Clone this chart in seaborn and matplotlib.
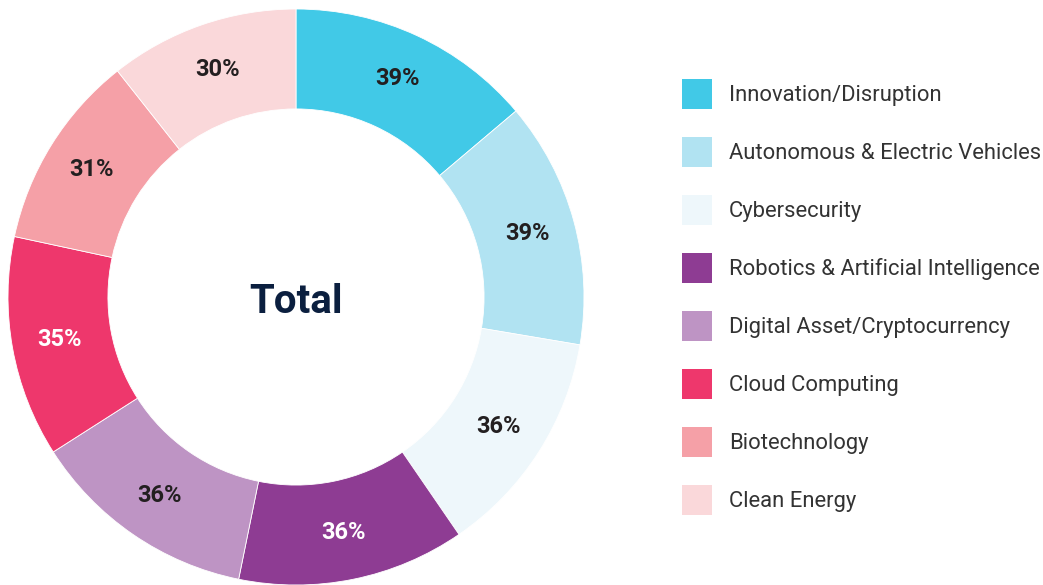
import matplotlib
matplotlib.use("Agg")
import matplotlib.pyplot as plt
from matplotlib.patches import Patch
import numpy as np
import seaborn as sns

# Theme shares, clockwise from 12 o'clock
categories = [
    "Innovation/Disruption",
    "Autonomous & Electric Vehicles",
    "Cybersecurity",
    "Robotics & Artificial Intelligence",
    "Digital Asset/Cryptocurrency",
    "Cloud Computing",
    "Biotechnology",
    "Clean Energy",
]
shares = [39, 39, 36, 36, 36, 35, 31, 30]
center_label = "Total"

palette = sns.color_palette([
    "#41C9E7", "#B1E3F2", "#EEF7FB", "#8E3C93",
    "#BE94C4", "#EE376C", "#F5A0A7", "#FAD8DA",
])
value_text_colors = ["#231F20", "#231F20", "#231F20", "white",
                     "#231F20", "white", "#231F20", "#231F20"]

sns.set_theme(style="white")
plt.rcParams["font.family"] = ["Roboto", "DejaVu Sans"]

W, H = 1043, 585
fig = plt.figure(figsize=(W / 100, H / 100), dpi=100)
fig.patch.set_facecolor("white")

# Ring centred at (296, 297) px with an outer radius of 288 px
cx, cy, R = 296, 297, 288
ax = fig.add_axes([(cx - R) / W, (H - cy - R) / H, 2 * R / W, 2 * R / H])

wedges, _ = ax.pie(
    shares,
    colors=palette,
    startangle=90,
    counterclock=False,
    radius=1,
    wedgeprops=dict(width=0.347, edgecolor="white", linewidth=0.6),
)
ax.set_xlim(-1, 1)
ax.set_ylim(-1, 1)
ax.set_aspect("equal")
ax.axis("off")

for w, v, tc in zip(wedges, shares, value_text_colors):
    mid = np.deg2rad((w.theta1 + w.theta2) / 2)
    ax.text(0.835 * np.cos(mid), 0.835 * np.sin(mid), f"{v}%",
            ha="center", va="center", fontsize=17, fontweight="bold",
            color=tc)

ax.text(0, -0.056, center_label, ha="center", va="baseline",
        fontsize=29, fontweight="bold", color="#0B1F3F")

# Legend: 30 px swatches, rows 58 px apart
fs = 15.8
fs_px = fs * 100 / 72
hh = (30 / fs_px - 0.245) / 0.65
handles = [Patch(facecolor=c, edgecolor="none") for c in palette]
fig.legend(
    handles, categories,
    loc="upper left", bbox_to_anchor=(682 / W, 1 - 79 / H),
    frameon=False, fontsize=fs,
    handlelength=30 / fs_px, handleheight=hh,
    handletextpad=17 / fs_px, labelspacing=28 / fs_px,
    borderpad=0, borderaxespad=0,
    labelcolor="#333333",
)

fig.savefig("out.png", dpi=100, facecolor="white")
